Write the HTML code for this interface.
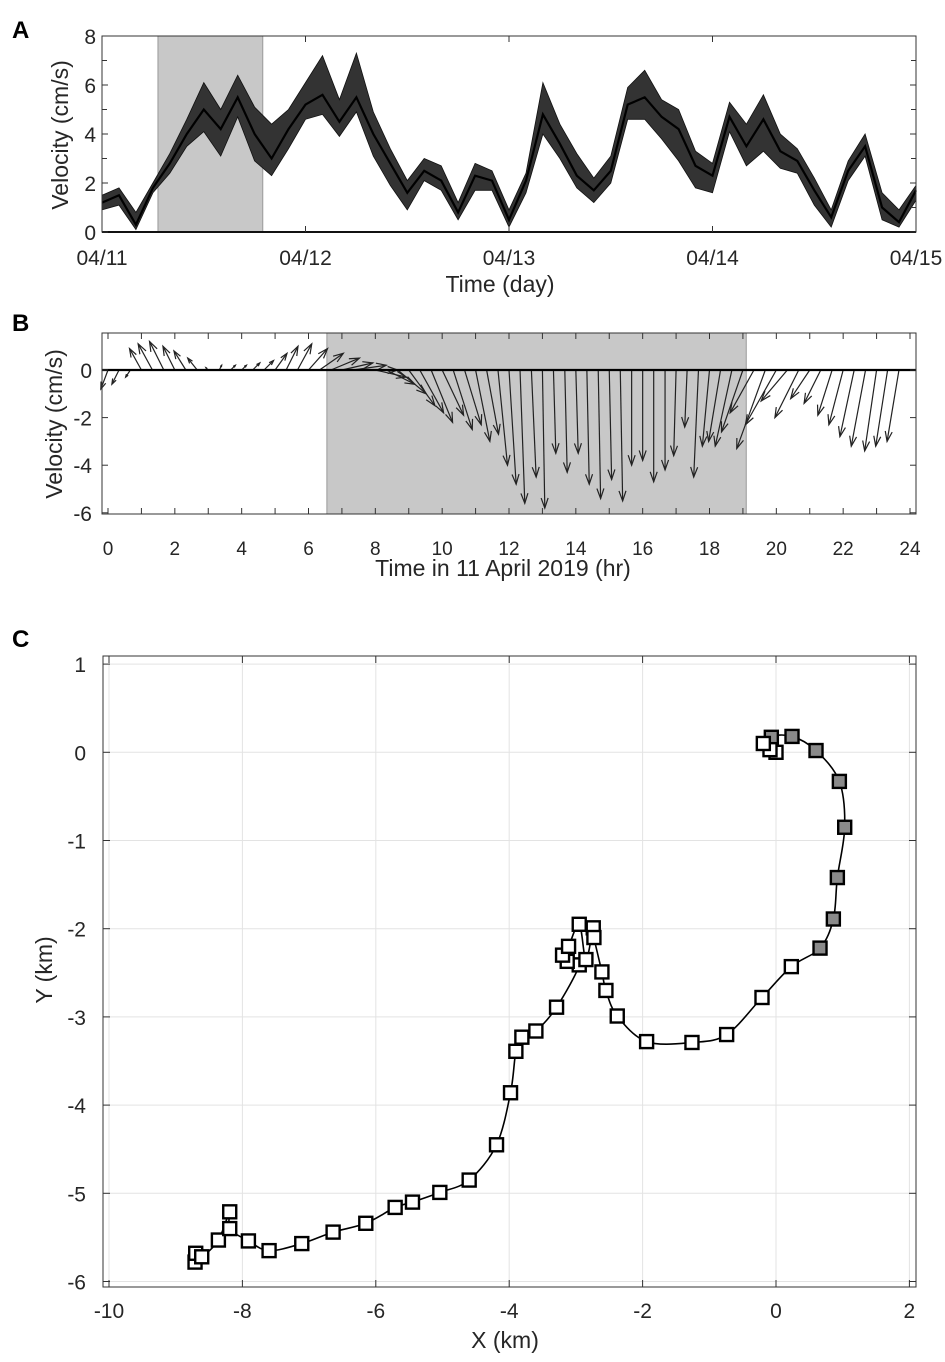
<!DOCTYPE html>
<html><head><meta charset="utf-8"><style>
html,body{margin:0;padding:0;background:#fff}
svg{display:block;font-family:"Liberation Sans",Arial,sans-serif}
</style></head><body>
<svg id="fig" width="945" height="1362" viewBox="0 0 945 1362">
<text x="12" y="38" font-size="24" font-weight="bold">A</text>
<text x="12" y="331" font-size="24" font-weight="bold">B</text>
<text x="12" y="647" font-size="24" font-weight="bold">C</text>
<g id="pa"></g>
<g id="pb"></g>
<g id="pc"></g>
</svg>
<script>
// Panel A: velocity magnitude, 2-hourly (days from 04/11)
const aCenter=[1.2,1.5,0.3,1.8,2.8,4.0,5.0,4.2,5.5,4.0,3.0,4.2,5.2,5.6,4.5,5.5,4.0,2.8,1.6,2.5,2.1,0.8,2.3,2.1,0.5,2.1,4.8,3.6,2.3,1.7,2.5,5.2,5.5,4.7,4.2,2.7,2.3,4.7,3.5,4.6,3.3,2.9,1.7,0.6,2.5,3.5,1.0,0.4,1.7];
const aLow=[0.9,1.1,0.1,1.6,2.4,3.5,4.1,3.1,4.7,2.9,2.3,3.4,4.6,4.8,3.9,4.9,3.1,1.9,0.9,2.1,1.7,0.5,1.7,1.7,0.2,1.6,4.0,3.0,1.8,1.2,2.0,4.6,4.6,3.8,2.9,1.8,1.6,4.1,2.7,3.3,2.6,2.4,1.1,0.2,2.1,3.1,0.5,0.2,1.3];
const aHigh=[1.5,1.8,0.8,2.0,3.2,4.6,6.1,5.0,6.4,5.1,4.4,5.0,6.1,7.2,5.4,7.3,4.9,3.4,2.1,3.0,2.7,1.2,2.8,2.5,0.9,2.4,6.1,4.4,3.2,2.2,3.1,5.9,6.6,5.4,5.0,3.3,2.8,5.3,4.4,5.6,4.0,3.4,2.2,0.9,2.9,4.0,1.6,0.9,1.9];
const aDayTicks=["04/11","04/12","04/13","04/14","04/15"];
const aYTicks=[0,2,4,6,8];
const aShade=[0.275,0.79];
// Panel B: quiver, every 20 minutes
const bTimes=[0,0.33,0.67,1,1.33,1.67,2,2.33,2.67,3,3.33,3.67,4,4.33,4.67,5,5.33,5.67,6,6.33,6.67,7,7.33,7.67,8,8.33,8.67,9,9.33,9.67,10,10.33,10.67,11,11.33,11.67,12,12.33,12.67,13,13.33,13.67,14,14.33,14.67,15,15.33,15.67,16,16.33,16.67,17,17.33,17.67,18,18.33,18.67,19,19.33,19.67,20,20.33,20.67,21,21.33,21.67,22,22.33,22.67,23,23.33,23.67];
const bV=[-0.8,-0.6,-0.3,0.9,1.1,1.2,1.0,0.8,0.5,0.1,0.2,0.2,0.2,0.3,0.4,0.7,1.0,1.1,0.9,0.7,0.5,0.3,0.2,0.0,-0.3,-0.6,-1.0,-1.5,-1.8,-2.2,-1.9,-2.5,-2.3,-3.0,-2.7,-4.0,-4.8,-5.6,-4.5,-5.8,-3.5,-4.3,-3.5,-4.8,-5.4,-4.6,-5.5,-4.0,-3.8,-4.7,-4.2,-3.6,-2.4,-4.5,-3.2,-3.0,-3.2,-2.6,-1.8,-3.3,-2.3,-1.3,-2.0,-1.2,-1.4,-1.9,-2.3,-2.8,-3.2,-3.4,-3.2,-3.0];
const bU=[-0.3,-0.3,-0.2,-0.5,-0.6,-0.6,-0.5,-0.5,-0.4,-0.1,0.1,0.2,0.2,0.3,0.4,0.5,0.5,0.6,0.8,1.0,1.2,1.3,1.4,1.4,1.3,1.2,1.2,1.1,1.0,0.9,0.9,0.8,0.7,0.6,0.5,0.4,0.3,0.2,0.2,0.1,0.1,0.1,0.1,0.1,0.1,0.1,0.1,0.0,0.0,0.0,0.0,-0.1,-0.1,-0.2,-0.3,-0.5,-0.7,-0.9,-1.0,-1.2,-1.3,-1.1,-1.0,-0.8,-0.7,-0.6,-0.6,-0.6,-0.6,-0.5,-0.5,-0.5];
const bXTicks=[0,2,4,6,8,10,12,14,16,18,20,22,24];
const bYTicks=[0,-2,-4,-6];
const bShade=[6.55,19.1];
// Panel C: trajectory (km)
const cX=[-0.19,-0.09,0.0,-0.07,0.24,0.60,0.95,1.03,0.92,0.86,0.66,0.23,-0.21,-0.74,-1.26,-1.94,-2.38,-2.55,-2.61,-2.73,-2.74,-2.85,-2.95,-3.11,-3.20,-3.13,-2.95,-3.29,-3.60,-3.81,-3.90,-3.98,-4.19,-4.60,-5.04,-5.45,-5.71,-6.15,-6.64,-7.11,-7.60,-7.91,-8.19,-8.19,-8.36,-8.61,-8.70,-8.71];
const cY=[0.10,0.03,0.0,0.17,0.18,0.02,-0.33,-0.85,-1.42,-1.89,-2.22,-2.43,-2.78,-3.20,-3.29,-3.28,-2.99,-2.70,-2.49,-2.10,-1.99,-2.35,-1.95,-2.20,-2.30,-2.37,-2.41,-2.89,-3.16,-3.23,-3.39,-3.86,-4.45,-4.85,-4.99,-5.10,-5.16,-5.34,-5.44,-5.57,-5.65,-5.54,-5.40,-5.21,-5.53,-5.72,-5.68,-5.78];
const cFilled=[0,0,0,1,1,1,1,1,1,1,1,0,0,0,0,0,0,0,0,0,0,0,0,0,0,0,0,0,0,0,0,0,0,0,0,0,0,0,0,0,0,0,0,0,0,0,0,0];
const cXTicks=[-10,-8,-6,-4,-2,0,2];
const cYTicks=[1,0,-1,-2,-3,-4,-5,-6];

const NS="http://www.w3.org/2000/svg";
function mk(parent,tag,attrs,txt){const e=document.createElementNS(NS,tag);for(const k in attrs)e.setAttribute(k,attrs[k]);if(txt!==undefined)e.textContent=txt;parent.appendChild(e);return e;}
const TF=21, LF=23, COL='#262626';

// ---------- Panel A ----------
(function(){
const g=document.getElementById('pa');
const L=102,R=916,T=36,B=232;
const ax=d=>L+(R-L)*d/4, ay=v=>B-(B-T)*v/8;
let r=mk(g,'rect',{x:ax(aShade[0]),y:T,width:ax(aShade[1])-ax(aShade[0]),height:B-T,fill:'#c8c8c8',stroke:'#999','stroke-width':1});


const n=aCenter.length;
let pts=[];
for(let i=0;i<n;i++)pts.push(ax(i/12).toFixed(1)+','+ay(aHigh[i]).toFixed(1));
for(let i=n-1;i>=0;i--)pts.push(ax(i/12).toFixed(1)+','+ay(aLow[i]).toFixed(1));
let band=mk(g,'polygon',{points:pts.join(' '),fill:'#333',stroke:'#111','stroke-width':0.8});


let cp=[];for(let i=0;i<n;i++)cp.push(ax(i/12).toFixed(1)+','+ay(aCenter[i]).toFixed(1));
let line=mk(g,'polyline',{points:cp.join(' '),fill:'none',stroke:'#000','stroke-width':2.2});


let box=mk(g,'rect',{x:L,y:T,width:R-L,height:B-T,fill:'none',stroke:'#333','stroke-width':1});


mk(g,'line',{x1:L,y1:B,x2:R,y2:B,stroke:'#111','stroke-width':2});
aYTicks.forEach(v=>{const y=ay(v);
 mk(g,'line',{x1:L,y1:y,x2:L+6,y2:y,stroke:'#333'});mk(g,'line',{x1:R,y1:y,x2:R-6,y2:y,stroke:'#333'});
 let t=mk(g,'text',{x:L-6,y:y+8,'font-size':TF,'text-anchor':'end',fill:COL},String(v));
 
 });
[1,3,5,7].forEach(v=>{const y=ay(v);mk(g,'line',{x1:L,y1:y,x2:L+5,y2:y,stroke:'#333'});mk(g,'line',{x1:R,y1:y,x2:R-5,y2:y,stroke:'#333'});});
aDayTicks.forEach((s,i)=>{const x=ax(i);
 mk(g,'line',{x1:x,y1:T,x2:x,y2:T+6,stroke:'#333'});mk(g,'line',{x1:x,y1:B,x2:x,y2:B-6,stroke:'#333'});
 let t=mk(g,'text',{x:x,y:265,'font-size':TF,'text-anchor':'middle',fill:COL},s);
 
 });
let xl=mk(g,'text',{x:500,y:292,'font-size':LF,'text-anchor':'middle',fill:COL},'Time (day)');


let yl=mk(g,'text',{x:0,y:0,'font-size':LF,'text-anchor':'middle',fill:COL,transform:'translate(68,135) rotate(-90)'},'Velocity (cm/s)');


})();

// ---------- Panel B ----------
(function(){
const g=document.getElementById('pb');
const L=102,R=916,T=333,B=514;
const bx=h=>108+(910-108)*h/24, by=v=>370-23.8*v;
let r=mk(g,'rect',{x:bx(bShade[0]),y:T,width:bx(bShade[1])-bx(bShade[0]),height:B-T,fill:'#c8c8c8',stroke:'#999','stroke-width':1});


for(let i=0;i<bTimes.length;i++){
 const x0=bx(bTimes[i]),y0=by(0),x1=x0+23.8*bU[i],y1=by(bV[i]);
 const a=mk(g,'g',{});
 
 
 mk(a,'line',{x1:x0,y1:y0,x2:x1,y2:y1,stroke:'#222','stroke-width':1.2});
 const dx=x1-x0,dy=y1-y0,len=Math.hypot(dx,dy);
 if(len>2){const ux=dx/len,uy=dy/len,hl=Math.min(10,len*0.35),hw=hl*0.35;
  mk(a,'polyline',{points:`${x1-ux*hl-uy*hw},${y1-uy*hl+ux*hw} ${x1},${y1} ${x1-ux*hl+uy*hw},${y1-uy*hl-ux*hw}`,fill:'none',stroke:'#222','stroke-width':1.2});}
}
mk(g,'line',{x1:L,y1:by(0),x2:R,y2:by(0),stroke:'#000','stroke-width':2.2});
let box=mk(g,'rect',{x:L,y:T,width:R-L,height:B-T,fill:'none',stroke:'#333','stroke-width':1});


for(let h=0;h<=24;h++){const x=bx(h);mk(g,'line',{x1:x,y1:T,x2:x,y2:T+6,stroke:'#333'});mk(g,'line',{x1:x,y1:B,x2:x,y2:B-6,stroke:'#333'});}
bXTicks.forEach(h=>{let t=mk(g,'text',{x:bx(h),y:555,'font-size':19,'text-anchor':'middle',fill:COL},String(h));
 
 });
bYTicks.forEach(v=>{const y=by(v);mk(g,'line',{x1:L,y1:y,x2:L+6,y2:y,stroke:'#333'});mk(g,'line',{x1:R,y1:y,x2:R-6,y2:y,stroke:'#333'});
 let t=mk(g,'text',{x:L-10,y:y+8,'font-size':TF,'text-anchor':'end',fill:COL},String(v));
 
 });
let xl=mk(g,'text',{x:503,y:576,'font-size':LF,'text-anchor':'middle',fill:COL},'Time in 11 April 2019 (hr)');


let yl=mk(g,'text',{x:0,y:0,'font-size':LF,'text-anchor':'middle',fill:COL,transform:'translate(62,424) rotate(-90)'},'Velocity (cm/s)');


})();

// ---------- Panel C ----------
(function(){
const g=document.getElementById('pc');
const L=103,R=916,T=656,B=1287;
const cx=x=>776+66.7*x, cy=y=>752.3-88.2*y;
cXTicks.forEach(v=>{const x=cx(v);let gl=mk(g,'line',{x1:x,y1:T,x2:x,y2:B,stroke:'#e3e3e3','stroke-width':1});
 
 });
cYTicks.forEach(v=>{const y=cy(v);let gl=mk(g,'line',{x1:L,y1:y,x2:R,y2:y,stroke:'#e3e3e3','stroke-width':1});
 
 });
let box=mk(g,'rect',{x:L,y:T,width:R-L,height:B-T,fill:'none',stroke:'#333','stroke-width':1});


cXTicks.forEach(v=>{const x=cx(v);mk(g,'line',{x1:x,y1:B,x2:x,y2:B-7,stroke:'#333'});mk(g,'line',{x1:x,y1:T,x2:x,y2:T+7,stroke:'#333'});
 let t=mk(g,'text',{x:x,y:1318,'font-size':TF,'text-anchor':'middle',fill:COL},String(v));
 
 });
cYTicks.forEach(v=>{const y=cy(v);mk(g,'line',{x1:L,y1:y,x2:L+7,y2:y,stroke:'#333'});mk(g,'line',{x1:R,y1:y,x2:R-7,y2:y,stroke:'#333'});
 let t=mk(g,'text',{x:86,y:y+8,'font-size':TF,'text-anchor':'end',fill:COL},String(v));
 
 });
const P=cX.map((x,i)=>[cx(x),cy(cY[i])]);
let d='M'+P[0][0]+','+P[0][1];
for(let i=0;i<P.length-1;i++){const p0=P[Math.max(0,i-1)],p1=P[i],p2=P[i+1],p3=P[Math.min(P.length-1,i+2)];
 d+=` C${p1[0]+(p2[0]-p0[0])/6},${p1[1]+(p2[1]-p0[1])/6} ${p2[0]-(p3[0]-p1[0])/6},${p2[1]-(p3[1]-p1[1])/6} ${p2[0]},${p2[1]}`;}
let path=mk(g,'path',{d:d,fill:'none',stroke:'#000','stroke-width':1.6});


for(let i=P.length-1;i>=0;i--){
 let s=mk(g,'rect',{x:P[i][0]-6.5,y:P[i][1]-6.5,width:13,height:13,fill:cFilled[i]?'#8a8a8a':'#fff',stroke:'#000','stroke-width':2.4});
 
 
}
let xl=mk(g,'text',{x:505,y:1348,'font-size':LF,'text-anchor':'middle',fill:COL},'X (km)');


let yl=mk(g,'text',{x:0,y:0,'font-size':LF,'text-anchor':'middle',fill:COL,transform:'translate(52,970) rotate(-90)'},'Y (km)');


})();
</script>
</body></html>
